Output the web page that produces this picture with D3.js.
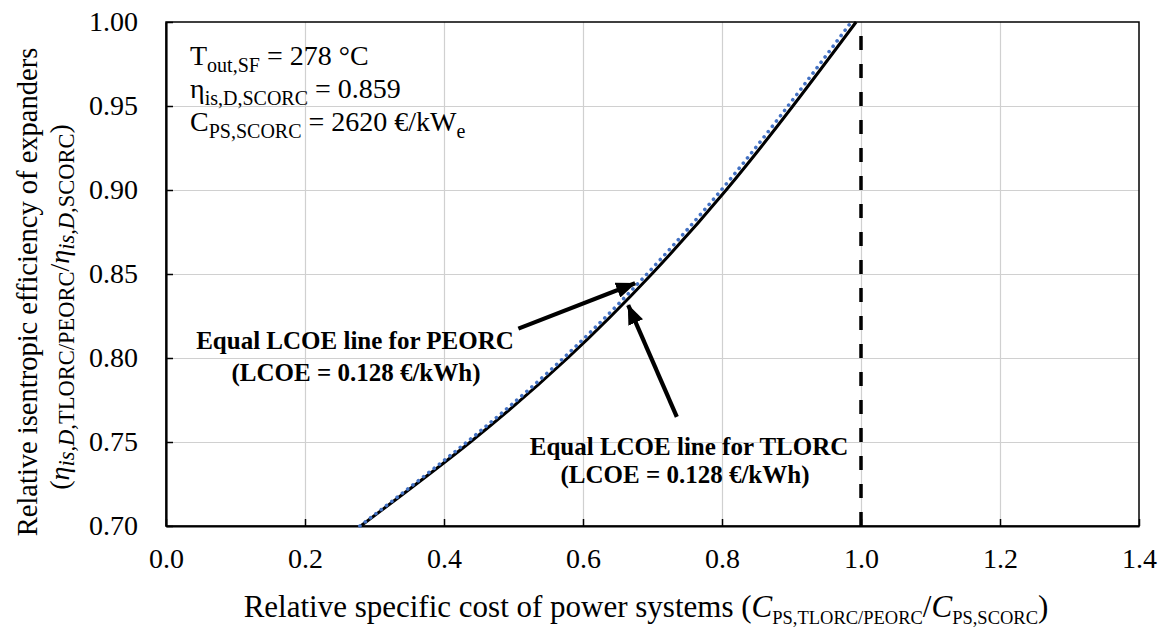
<html>
<head>
<meta charset="utf-8">
<script src="https://d3js.org/d3.v7.min.js"></script>
<style>
  body { margin: 0; background: #fff; }
  text { font-family: "Times New Roman", "Liberation Serif", serif; fill: #000; }
</style>
</head>
<body>
<div id="chart"></div>
<script>
  // axis ticks
  var xTicks = [0.0, 0.2, 0.4, 0.6, 0.8, 1.0, 1.2, 1.4];
  var yTicks = [0.70, 0.75, 0.80, 0.85, 0.90, 0.95, 1.00];

  // equal LCOE lines (relative cost vs relative expander efficiency)
  var etaRatio = [0.70, 0.75, 0.80, 0.85, 0.90, 0.95, 1.00];
  var costTLORC = [0.280, 0.438, 0.578, 0.699, 0.806, 0.902, 0.993];
  var costPEORC = [0.279, 0.433, 0.572, 0.692, 0.799, 0.895, 0.986];

  // SCORC reference cost
  var limitX = [1.0, 1.0];
  var limitY = [0.70, 1.00];

  // annotation arrows [tail, tip] in data units
  var arrowPEORC = [[0.507, 0.8175], [0.675, 0.8445]];
  var arrowTLORC = [[0.735, 0.765], [0.665, 0.8315]];

  var serif = "'Times New Roman', 'Liberation Serif', serif";

  var margin = {top: 22, right: 25, bottom: 102, left: 166},
      width = 1164 - margin.left - margin.right,
      height = 628 - margin.top - margin.bottom;

  var svg = d3.select("#chart")
    .append("svg")
      .attr("width", 1164)
      .attr("height", 628)
    .append("g")
      .attr("transform", "translate(" + margin.left + "," + margin.top + ")");

  var x = d3.scaleLinear().domain([0, 1.4]).range([0, width]);
  var y = d3.scaleLinear().domain([0.70, 1.00]).range([height, 0]);

  // gridlines
  svg.append("g")
    .attr("transform", "translate(0," + height + ")")
    .call(d3.axisBottom(x).tickValues(xTicks.slice(1, -1)).tickSize(-height).tickFormat(""))
    .call(function(g) { g.select(".domain").remove(); })
    .selectAll("line").attr("stroke", "#d0d0d0").attr("stroke-width", 1.2);
  svg.append("g")
    .call(d3.axisLeft(y).tickValues(yTicks.slice(1, -1)).tickSize(-width).tickFormat(""))
    .call(function(g) { g.select(".domain").remove(); })
    .selectAll("line").attr("stroke", "#d0d0d0").attr("stroke-width", 1.2);

  // frame
  svg.append("rect")
    .attr("width", width).attr("height", height)
    .attr("fill", "none").attr("stroke", "#000").attr("stroke-width", 1.5);

  // axes
  var xAxis = svg.append("g")
    .attr("transform", "translate(0," + height + ")")
    .call(d3.axisBottom(x).tickValues(xTicks).tickSize(-7).tickSizeOuter(0).tickPadding(22).tickFormat(d3.format(".1f")));
  var yAxis = svg.append("g")
    .call(d3.axisLeft(y).tickValues(yTicks).tickSize(-7).tickSizeOuter(0).tickPadding(28).tickFormat(d3.format(".2f")));
  [xAxis, yAxis].forEach(function(a) {
    a.attr("font-family", serif).attr("font-size", 28);
    a.select(".domain").attr("stroke", "#000").attr("stroke-width", 2.2);
    a.selectAll(".tick line").attr("stroke", "#000").attr("stroke-width", 1.5);
    a.selectAll(".tick text")
      .style("font-family", serif)
      .style("font-size", "28px").attr("fill", "#000");
  });

  // lines
  var line = d3.line()
    .x(function(d) { return x(d[0]); })
    .y(function(d) { return y(d[1]); })
    .curve(d3.curveNatural);

  svg.append("path")
    .datum(d3.zip(limitX, limitY))
    .attr("fill", "none").attr("stroke", "#000").attr("stroke-width", 3.5)
    .attr("stroke-dasharray", "14,14")
    .attr("d", d3.line().x(function(d) { return x(d[0]); }).y(function(d) { return y(d[1]); }));

  svg.append("path")
    .datum(d3.zip(costTLORC, etaRatio))
    .attr("fill", "none").attr("stroke", "#000").attr("stroke-width", 3)
    .attr("d", line);

  svg.append("path")
    .datum(d3.zip(costPEORC, etaRatio))
    .attr("fill", "none").attr("stroke", "#4472C4").attr("stroke-width", 3.6)
    .attr("stroke-linecap", "round").attr("stroke-dasharray", "0.1,6.6")
    .attr("d", line);

  // arrows
  svg.append("defs").append("marker")
      .attr("id", "head")
      .attr("markerUnits", "userSpaceOnUse")
      .attr("markerWidth", 20).attr("markerHeight", 16)
      .attr("refX", 19).attr("refY", 8)
      .attr("orient", "auto")
    .append("path")
      .attr("d", "M0,0 L20,8 L0,16 Z")
      .attr("fill", "#000");

  [arrowPEORC, arrowTLORC].forEach(function(a) {
    svg.append("line")
      .attr("x1", x(a[0][0])).attr("y1", y(a[0][1]))
      .attr("x2", x(a[1][0])).attr("y2", y(a[1][1]))
      .attr("stroke", "#000").attr("stroke-width", 4.2)
      .attr("marker-end", "url(#head)");
  });

  // rich text helper: parts [text, sub?, italic?]
  function rich(sel, parts, size, subSize, shift) {
    var down = false;
    parts.forEach(function(p) {
      var ts = sel.append("tspan").text(p[0]);
      if (p[1] && !down) { ts.attr("dy", shift); down = true; }
      else if (!p[1] && down) { ts.attr("dy", -shift); down = false; }
      if (p[1]) ts.attr("font-size", subSize);
      if (p[2]) ts.attr("font-style", "italic");
    });
  }

  // labels
  var labels = [
    {x: 355 - margin.left, y: 349 - margin.top, t: "Equal LCOE line for PEORC"},
    {x: 356 - margin.left, y: 381 - margin.top, t: "(LCOE = 0.128 €/kWh)"},
    {x: 689 - margin.left, y: 455 - margin.top, t: "Equal LCOE line for TLORC"},
    {x: 685 - margin.left, y: 483 - margin.top, t: "(LCOE = 0.128 €/kWh)"}
  ];
  svg.selectAll(".lab").data(labels).enter().append("text")
    .attr("class", "lab")
    .attr("x", function(d) { return d.x; })
    .attr("y", function(d) { return d.y; })
    .attr("text-anchor", "middle")
    .attr("font-weight", "bold")
    .attr("font-size", 25)
    .text(function(d) { return d.t; });

  // design conditions
  var info = [
    [["T"], ["out,SF", 1], [" = 278 °C"]],
    [["η"], ["is,D,SCORC", 1], [" = 0.859"]],
    [["C"], ["PS,SCORC", 1], [" = 2620 €/kW"], ["e", 1]]
  ];
  info.forEach(function(parts, i) {
    var t = svg.append("text")
      .attr("x", 190 - margin.left)
      .attr("y", 65 - margin.top + i * 33)
      .attr("font-size", 28);
    rich(t, parts, 28, 20, 7);
  });

  // axis titles
  var xt = svg.append("text")
    .attr("x", 646 - margin.left)
    .attr("y", 617 - margin.top)
    .attr("text-anchor", "middle")
    .attr("font-size", 31);
  rich(xt, [["Relative specific cost of power systems ("], ["C", 0, 1], ["PS,TLORC/PEORC", 1],
            ["/"], ["C", 0, 1], ["PS,SCORC", 1], [")"]], 31, 18.5, 7);

  var yt = svg.append("g")
    .attr("transform", "translate(" + (-margin.left) + ",0) rotate(-90)");
  yt.append("text")
    .attr("x", -(292 - margin.top)).attr("y", 37)
    .attr("text-anchor", "middle")
    .attr("font-size", 28.5)
    .text("Relative isentropic efficiency of expanders");
  var yt2 = yt.append("text")
    .attr("x", -(307 - margin.top)).attr("y", 69)
    .attr("text-anchor", "middle")
    .attr("font-size", 28);
  rich(yt2, [["("], ["η", 0, 1], ["is,D,", 1, 1], ["TLORC/PEORC", 1], ["/"], ["η", 0, 1],
             ["is,D,", 1, 1], ["SCORC", 1], [")"]], 28, 22.5, 5);
</script>
</body>
</html>
